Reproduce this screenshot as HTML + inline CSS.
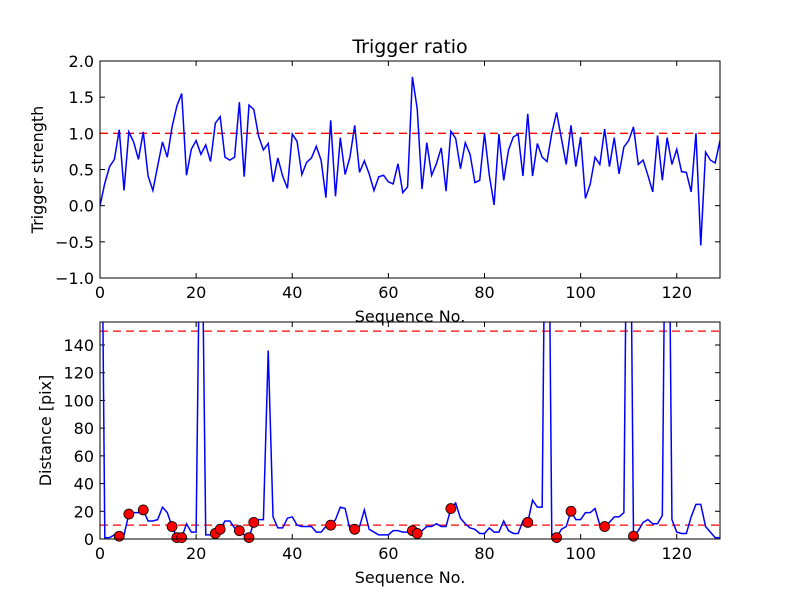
<!DOCTYPE html>
<html><head><meta charset="utf-8"><style>
body{margin:0;background:#fff}
svg{display:block;font-family:"DejaVu Sans","Liberation Sans",sans-serif}
</style></head><body>
<svg id="c" width="800" height="600">
<defs>
<clipPath id="clipTop"><rect x="100" y="61" width="620" height="217"/></clipPath>
<clipPath id="clipBot"><rect x="100" y="322" width="620" height="217"/></clipPath>
</defs>
<rect width="800" height="600" fill="#fff"/>
<text x="410" y="53" font-size="19" text-anchor="middle">Trigger ratio</text>
<g id="topPanel"></g>
<g id="botPanel"></g>
</svg>
<script>
const strength = [0.0,0.31,0.54,0.64,1.05,0.21,1.02,0.88,0.64,1.02,0.41,0.21,0.55,0.88,0.67,1.09,1.38,1.55,0.42,0.78,0.90,0.71,0.84,0.61,1.14,1.23,0.67,0.63,0.67,1.43,0.40,1.39,1.33,0.96,0.77,0.86,0.33,0.66,0.41,0.24,0.99,0.89,0.43,0.60,0.66,0.82,0.63,0.11,1.18,0.13,0.94,0.43,0.67,1.11,0.46,0.62,0.44,0.21,0.40,0.42,0.33,0.30,0.58,0.18,0.26,1.78,1.34,0.23,0.87,0.42,0.58,0.80,0.20,1.03,0.93,0.51,0.87,0.71,0.32,0.35,1.00,0.42,0.01,0.99,0.35,0.77,0.95,0.99,0.41,1.27,0.41,0.86,0.67,0.61,1.00,1.29,0.93,0.57,1.11,0.54,0.95,0.10,0.30,0.67,0.57,1.06,0.54,0.94,0.44,0.81,0.90,1.09,0.57,0.63,0.42,0.19,0.97,0.35,0.94,0.57,0.78,0.47,0.46,0.19,1.00,-0.55,0.74,0.63,0.59,0.90];
const distance = [400,1,1,3,2,3,18,19,19,21,13,13,14,23,19,9,1,1,11,5,5,300,3,3,4,7,13,13,8,6,3,1,12,14,14,136,16,8,8,15,16,10,9,9,9,5,5,9,10,14,23,22,7,7,9,21,7,5,3,3,3,6,6,5,5,6,4,6,9,9,11,9,9,22,26,15,11,8,7,4,4,8,5,5,13,6,4,4,13,12,28,23,23,400,2,1,7,9,20,14,14,19,19,22,10,9,12,16,16,19,400,2,6,12,14,11,11,17,400,14,5,4,4,16,25,25,9,5,1,1];
const markedIdx = [4,6,9,15,16,17,24,25,29,31,32,48,53,65,66,73,89,95,98,105,111];
const xTicks = [0,20,40,60,80,100,120];
const topYTicks = [-1.0,-0.5,0.0,0.5,1.0,1.5,2.0];
const botYTicks = [0,20,40,60,80,100,120,140];
const topThreshold = [1.0];
const botThresholds = [10,150];

const NS="http://www.w3.org/2000/svg";
function mk(tag,attrs,parent){const e=document.createElementNS(NS,tag);for(const k in attrs)e.setAttribute(k,attrs[k]);parent.appendChild(e);return e;}
const L=100,R=720,xMax=129;
const sx=v=>L+(v-0)/(xMax-0)*(R-L);

function panel(g,T,B,yMin,yMax,yTicks,fmt,ylabel,ylx){
  const sy=v=>B-(v-yMin)/(yMax-yMin)*(B-T);
  xTicks.forEach(t=>{
    const x=sx(t);
    const a=mk('line',{x1:x,x2:x,y1:B,y2:B-5,stroke:'#000'},g);
    
    
    mk('line',{x1:x,x2:x,y1:T,y2:T+5,stroke:'#000'},g);
    const tx=mk('text',{x:x,y:B+20,'font-size':16,'text-anchor':'middle'},g);
    
    
    tx.textContent=t;
  });
  yTicks.forEach(t=>{
    const y=sy(t);
    const a=mk('line',{x1:L,x2:L+5,y1:y,y2:y,stroke:'#000'},g);
    
    
    mk('line',{x1:R,x2:R-5,y1:y,y2:y,stroke:'#000'},g);
    const tx=mk('text',{x:L-6,y:y+6,'font-size':16,'text-anchor':'end'},g);
    
    
    tx.textContent=fmt(t);
  });
  const xl=mk('text',{x:410,y:B+44,'font-size':16,'text-anchor':'middle'},g);
  
  
  xl.textContent='Sequence No.';
  const cy=(T+B)/2;
  const yl=mk('text',{x:0,y:0,'font-size':16,'text-anchor':'middle',transform:`translate(${ylx},${cy}) rotate(-90)`},g);
  
  
  yl.textContent=ylabel;
  return sy;
}

const topG=document.getElementById('topPanel');
const syT=panel(topG,61,278,-1,2,topYTicks,t=>(t<0?'\u2212'+Math.abs(t).toFixed(1):t.toFixed(1)),'Trigger strength',43);
topThreshold.forEach(v=>{
  const l=mk('line',{x1:L,x2:R,y1:syT(v),y2:syT(v),stroke:'#f00','stroke-width':1.3,'stroke-dasharray':'8,5','clip-path':'url(#clipTop)'},topG);
  
  
});
const p1=mk('polyline',{points:strength.map((v,i)=>sx(i)+','+syT(v)).join(' '),fill:'none',stroke:'#00f','stroke-width':1.5,'clip-path':'url(#clipTop)'},topG);


const f1=mk('rect',{x:L,y:61,width:R-L,height:217,fill:'none',stroke:'#000','stroke-width':1},topG);



const botG=document.getElementById('botPanel');
const syB=panel(botG,322,539,0,156.6,botYTicks,t=>String(t),'Distance [pix]',51);
botThresholds.forEach(v=>{
  const l=mk('line',{x1:L,x2:R,y1:syB(v),y2:syB(v),stroke:'#f00','stroke-width':1.3,'stroke-dasharray':'8,5','clip-path':'url(#clipBot)'},botG);
  
  
});
const p2=mk('polyline',{points:distance.map((v,i)=>sx(i)+','+syB(v)).join(' '),fill:'none',stroke:'#00f','stroke-width':1.5,'clip-path':'url(#clipBot)'},botG);


markedIdx.forEach(i=>{
  const c=mk('circle',{cx:sx(i),cy:syB(distance[i]),r:5,fill:'#f00',stroke:'#000','stroke-width':0.8},botG);
  
  
});
const f2=mk('rect',{x:L,y:322,width:R-L,height:217,fill:'none',stroke:'#000','stroke-width':1},botG);


</script>
</body></html>
